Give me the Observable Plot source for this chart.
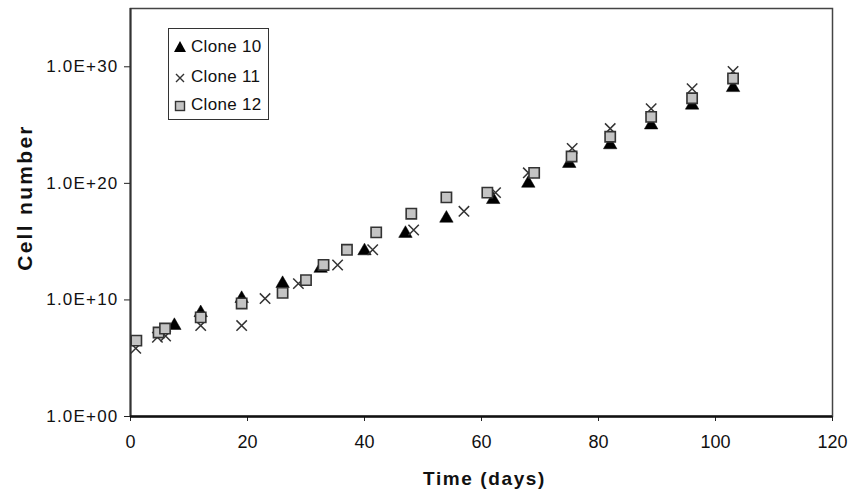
<!DOCTYPE html>
<html>
<head>
<meta charset="utf-8">
<script src="https://cdn.jsdelivr.net/npm/d3@7"></script>
<script src="https://cdn.jsdelivr.net/npm/@observablehq/plot@0.6"></script>
<style>
  body { margin: 0; background: #fff; }
  #wrap { position: relative; width: 848px; height: 492px; font-family: Arial, "Liberation Sans", sans-serif; }
  #legend { position: absolute; left: 168px; top: 28px; width: 99px; height: 90px; border: 1.5px solid #333; background: #fff; }
  #legend .row { position: absolute; left: 0; height: 20px; display: flex; align-items: center; font-size: 17px; color: #111; letter-spacing: 0.3px; }
  #legend svg { width: 22px; height: 20px; }
</style>
</head>
<body>
<div id="wrap"></div>
<script>
const seriesNames = ["Clone 10", "Clone 11", "Clone 12"];

const clone10Days = [7.5, 12, 19, 26, 32.5, 40, 47, 54, 62, 68, 75, 82, 89, 96, 103];
const clone10Cells = [6.3e7, 7.9e8, 1.3e10, 2.5e11, 5e12, 1.6e14, 5e15, 1e17, 4e18, 1e20, 5e21, 2e23, 1e25, 5e26, 1.6e28];

const clone11Days = [0.9, 4.6, 6, 12, 19, 23, 28.7, 35.4, 41.4, 48.4, 57, 62.4, 68, 75.5, 82, 89, 96, 103];
const clone11Cells = [7e5, 6.3e6, 8e6, 6.3e7, 6.3e7, 1.3e10, 2.5e11, 1e13, 2e14, 1e16, 4e17, 1.6e19, 8e20, 1e23, 5e24, 2.5e26, 1.3e28, 4e29];

const clone12Days = [1, 4.8, 5.9, 12, 19, 26, 30, 33, 37, 42, 48, 54, 61, 69, 75.4, 82, 89, 96, 103];
const clone12Cells = [3.2e6, 1.6e7, 3.5e7, 3.2e8, 5e9, 4e10, 5e11, 1e13, 2e14, 6.3e15, 2.5e17, 6.3e18, 1.6e19, 8e20, 2e22, 1e24, 5e25, 2e27, 1e29];

const xTicks = [0, 20, 40, 60, 80, 100, 120];
const yTicks = [1, 1e10, 1e20, 1e30];
const xTitle = "Time (days)";
const yTitle = "Cell number";

const toRows = (days, cells) => days.map((d, i) => ({day: d, cells: cells[i]}));
const c10 = toRows(clone10Days, clone10Cells);
const c11 = toRows(clone11Days, clone11Cells);
const c12 = toRows(clone12Days, clone12Cells);

const fmtY = d => "1.0E+" + String(Math.round(Math.log10(d))).padStart(2, "0");

const chart = Plot.plot({
  width: 848,
  height: 492,
  marginLeft: 130,
  marginRight: 16,
  marginTop: 8,
  marginBottom: 76,
  style: {fontFamily: 'Arial, "Liberation Sans", sans-serif', background: "#fff", color: "#111"},
  x: {domain: [0, 120], ticks: xTicks},
  y: {type: "log", domain: [1, 1e35], ticks: yTicks},
  marks: [
    Plot.frame({stroke: "#444", strokeWidth: 1.5}),
    Plot.axisX({ticks: xTicks, tickSize: 5, tickPadding: 14, fontSize: 18, label: null, stroke: "#222"}),
    Plot.axisY({ticks: yTicks, tickFormat: fmtY, tickSize: 6, tickPadding: 6, fontSize: 17, label: null, stroke: "#222"}),
    Plot.ruleX([0], {stroke: "#333", strokeWidth: 2}),
    Plot.ruleY([1], {stroke: "#111", strokeWidth: 2.5}),
    Plot.dot(c10, {x: "day", y: "cells", symbol: "triangle", r: 5, fill: "#000", stroke: "#000", strokeWidth: 0.5}),
    Plot.dot(c11, {x: "day", y: "cells", symbol: "times", r: 4.8, stroke: "#333", strokeWidth: 1.5}),
    Plot.dot(c12, {x: "day", y: "cells", symbol: "square", r: 5.8, fill: "#c4c4c4", stroke: "#333", strokeWidth: 1.6}),
    Plot.text([yTitle], {frameAnchor: "left", textAnchor: "middle", lineAnchor: "middle", rotate: -90, dx: -105, dy: -15, fontSize: 21, fontWeight: "bold", fill: "#111"}),
    Plot.text([xTitle], {frameAnchor: "bottom", textAnchor: "middle", lineAnchor: "middle", dy: 62, dx: 3, fontSize: 19, fontWeight: "bold", fill: "#111"})
  ]
});

// letter spacing to match the wide-set type of the original
d3.select(chart).selectAll("text").each(function () {
  const t = this.textContent;
  if (t === yTitle) this.setAttribute("letter-spacing", "2.3px");
  else if (t === xTitle) this.setAttribute("letter-spacing", "1.6px");
  else if (t.startsWith("1.0E+")) this.setAttribute("letter-spacing", "1.2px");
});

const wrap = document.getElementById("wrap");
chart.style.position = "absolute";
chart.style.left = "0";
chart.style.top = "0";
wrap.appendChild(chart);

// Legend
const legend = document.createElement("div");
legend.id = "legend";
const symbolSvg = [
  '<svg viewBox="-11 -10 22 20"><path d="M0,-6 L6,5 L-6,5 Z" fill="#000"/></svg>',
  '<svg viewBox="-11 -10 22 20"><path d="M-4,-3 L4,5 M4,-3 L-4,5" stroke="#333" stroke-width="1.4" fill="none"/></svg>',
  '<svg viewBox="-11 -10 22 20"><rect x="-4.5" y="-3.5" width="9" height="9" fill="#c4c4c4" stroke="#333" stroke-width="1.4"/></svg>'
];
const rowTops = [8, 38, 66];
seriesNames.forEach((name, i) => {
  const row = document.createElement("div");
  row.className = "row";
  row.style.top = rowTops[i] + "px";
  row.innerHTML = symbolSvg[i] + "<span>" + name + "</span>";
  legend.appendChild(row);
});
wrap.appendChild(legend);
</script>
</body>
</html>
